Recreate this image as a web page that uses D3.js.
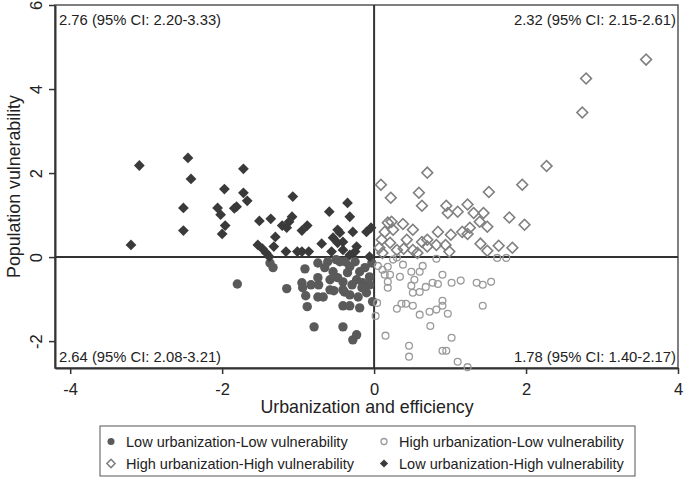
<!DOCTYPE html>
<html>
<head>
<meta charset="utf-8">
<script src="https://cdn.jsdelivr.net/npm/d3@7"></script>
<style>
  body { margin: 0; background: #fff; }
  svg { font-family: Arial, "Liberation Sans", sans-serif; display: block; }
</style>
</head>
<body>
<div id="chart"></div>
<script>
// series values, [x, y] = [urbanization & efficiency, population vulnerability]
var lowLow = [
  [-1.80,-0.64],[-1.37,-0.14],[-1.33,-0.25],[-0.74,-0.14],[-0.91,-0.28],[-0.54,-0.35],
  [-0.74,-0.49],[-0.73,-0.66],[-0.95,-0.61],[-0.94,-0.73],[-0.83,-0.66],[-1.15,-0.75],
  [-0.90,-0.92],[-0.74,-0.95],[-0.58,-0.78],[-0.53,-0.80],[-0.41,-0.78],[-0.88,-1.18],
  [-0.41,-1.16],[-0.32,-1.16],[-0.19,-1.21],[-0.79,-1.66],[-0.41,-1.66],[-0.28,-1.97],
  [-0.23,-1.85],[-0.45,-0.11],[-0.48,-0.49],[-0.41,-0.59],[-0.32,-0.23],[-0.19,-0.35],
  [-0.15,-0.61],[-0.23,-0.54],[-0.10,-0.85],[-0.32,-0.90],[-0.21,-0.95],[-0.06,-0.47],
  [-0.03,-0.14],[-0.39,-0.83],[-0.02,-1.06],[-0.61,-0.11],[-0.50,-0.06],[-0.67,-0.95],
  [-0.35,-0.37],[-0.12,-0.25],[-0.25,-0.11],[-0.38,-0.11],[-0.58,-0.54],[-0.65,-0.25],
  [-0.16,-0.73],[-0.06,-0.66],[-0.29,-0.66]
];
var highLow = [
  [1.62,-0.02],[1.74,-0.02],[0.05,-0.21],[0.11,-0.30],[0.18,-0.23],[0.14,-0.42],
  [0.21,-0.42],[0.18,-0.59],[0.18,-0.73],[0.25,-0.06],[0.30,-0.01],[0.38,-0.18],
  [0.34,-0.47],[0.49,-0.35],[0.60,-0.35],[0.64,-0.21],[0.53,-0.54],[0.49,-0.68],
  [0.51,-0.85],[0.60,-0.83],[0.68,-0.71],[0.77,-0.61],[0.84,-0.64],[0.90,-0.42],
  [1.02,-0.61],[1.14,-0.56],[1.35,-0.61],[1.43,-0.66],[1.54,-0.59],[0.82,-0.04],
  [0.30,-1.23],[0.36,-1.11],[0.42,-1.11],[0.51,-1.16],[0.60,-1.37],[0.73,-1.30],
  [0.82,-1.25],[0.90,-1.04],[0.90,-1.16],[0.97,-1.35],[0.74,-1.64],[1.43,-1.16],
  [0.02,-1.40],[0.04,-1.09],[0.15,-1.87],[0.46,-2.11],[0.46,-2.37],[0.90,-2.23],
  [0.95,-2.23],[1.02,-1.92],[1.10,-2.49],[1.23,-2.62]
];
var highHigh = [
  [3.58,4.70],[2.79,4.25],[2.74,3.44],[2.27,2.17],[1.95,1.72],[1.51,1.55],[0.95,1.22],
  [0.97,1.05],[1.10,1.08],[1.23,1.25],[1.31,1.05],[1.44,1.05],[1.78,0.94],[1.39,0.84],
  [1.49,0.72],[1.98,0.77],[1.16,0.60],[1.26,0.70],[1.23,0.55],[1.01,0.53],[1.40,0.32],
  [1.49,0.15],[1.64,0.27],[1.82,0.22],[0.99,0.13],[0.94,0.29],[0.09,1.72],[0.22,1.41],
  [0.70,2.01],[0.59,1.53],[0.63,1.22],[0.84,0.60],[0.18,0.82],[0.23,0.84],[0.25,0.65],
  [0.14,0.60],[0.38,0.79],[0.51,0.65],[0.43,0.41],[0.30,0.17],[0.10,0.41],[0.07,0.22],
  [0.51,0.17],[0.63,0.36],[0.70,0.41],[0.82,0.29],[0.57,0.10],[0.70,0.25],[0.39,0.20],
  [0.21,0.34],[0.11,0.10]
];
var lowHigh = [
  [-3.09,2.18],[-2.45,2.36],[-2.41,1.86],[-2.51,1.17],[-2.51,0.63],[-3.20,0.29],
  [-1.97,1.62],[-2.06,1.17],[-2.02,1.01],[-1.96,0.75],[-2.00,0.55],[-1.84,1.16],
  [-1.81,1.20],[-1.72,2.10],[-1.72,1.53],[-1.67,1.34],[-1.07,1.44],[-1.51,0.86],
  [-1.36,0.91],[-1.08,0.96],[-1.12,0.84],[-1.21,0.75],[-1.15,0.70],[-1.30,0.48],
  [-1.32,0.25],[-1.16,0.13],[-1.53,0.29],[-1.47,0.20],[-1.42,0.10],[-1.38,0.01],
  [-1.01,0.13],[-0.95,0.63],[-0.88,0.75],[-0.95,0.13],[-0.86,0.13],[-0.69,0.32],
  [-0.59,1.08],[-0.35,1.29],[-0.32,0.96],[-0.48,0.65],[-0.45,0.58],[-0.54,0.46],
  [-0.48,0.34],[-0.41,0.36],[-0.56,0.13],[-0.41,0.17],[-0.28,0.60],[-0.23,0.25],
  [-0.25,0.13],[-0.10,0.60],[-0.04,0.70],[-0.06,0.01],[-0.32,0.05]
];

// tick labels
var xTicks = [-4, -2, 0, 2, 4];
var yTicks = [-2, 0, 2, 4, 6];

// quadrant notes
var notes = [
  {text: "2.76 (95% CI: 2.20-3.33)", corner: "tl"},
  {text: "2.32 (95% CI: 2.15-2.61)", corner: "tr"},
  {text: "2.64 (95% CI: 2.08-3.21)", corner: "bl"},
  {text: "1.78 (95% CI: 1.40-2.17)", corner: "br"}
];

var legendItems = [
  {label: "Low urbanization-Low vulnerability", kind: "lowLow"},
  {label: "High urbanization-Low vulnerability", kind: "highLow"},
  {label: "High urbanization-High vulnerability", kind: "highHigh"},
  {label: "Low urbanization-High vulnerability", kind: "lowHigh"}
];

var width = 685, height = 479;
var plotLeft = 55, plotRight = 678, plotTop = 5, plotBottom = 368;

var svg = d3.select("#chart").append("svg")
    .attr("width", width)
    .attr("height", height);

var x = d3.scaleLinear().domain([-4.2, 4]).range([plotLeft, plotRight]);
var y = d3.scaleLinear().domain([-2.64, 6]).range([plotBottom, plotTop]);

var diamond = d3.symbol().type(d3.symbolSquare).size(58);
var diamondSmall = d3.symbol().type(d3.symbolSquare).size(34);

// frame: top and right edges
svg.append("rect")
    .attr("x", plotLeft).attr("y", plotTop)
    .attr("width", plotRight - plotLeft).attr("height", plotBottom - plotTop)
    .attr("fill", "none")
    .attr("stroke", "#555")
    .attr("stroke-width", 1.5);

// zero lines
svg.append("line")
    .attr("x1", x(0)).attr("x2", x(0))
    .attr("y1", plotTop).attr("y2", plotBottom)
    .attr("stroke", "#333").attr("stroke-width", 2);
svg.append("line")
    .attr("x1", plotLeft).attr("x2", plotRight)
    .attr("y1", y(0)).attr("y2", y(0))
    .attr("stroke", "#333").attr("stroke-width", 2);

// axes
var xAxis = svg.append("g")
    .attr("transform", "translate(0," + plotBottom + ")")
    .call(d3.axisBottom(x).tickValues(xTicks).tickSize(6).tickSizeOuter(0).tickFormat(String));
var yAxis = svg.append("g")
    .attr("transform", "translate(" + plotLeft + ",0)")
    .call(d3.axisLeft(y).tickValues(yTicks).tickSize(6).tickSizeOuter(0).tickFormat(String));

[xAxis, yAxis].forEach(function(g) {
  g.select(".domain").attr("stroke", "#333").attr("stroke-width", 2);
  g.selectAll(".tick line").attr("stroke", "#333").attr("stroke-width", 1.5);
  g.selectAll(".tick text")
      .attr("fill", "#222")
      .style("font-size", "16.5px")
      .style("font-family", "Arial, 'Liberation Sans', sans-serif");
});
xAxis.selectAll(".tick text").attr("dy", null).attr("y", 27);
yAxis.selectAll(".tick text")
    .attr("x", null).attr("dy", null)
    .attr("text-anchor", "middle")
    .attr("transform", "translate(-13,0) rotate(-90)");

// axis titles
svg.append("text")
    .attr("x", 367).attr("y", 413)
    .attr("text-anchor", "middle")
    .attr("fill", "#222")
    .style("font-size", "17.8px")
    .text("Urbanization and efficiency");
svg.append("text")
    .attr("transform", "translate(20," + ((plotTop + plotBottom) / 2) + ") rotate(-90)")
    .attr("text-anchor", "middle")
    .attr("fill", "#222")
    .style("font-size", "17.8px")
    .text("Population vulnerability");

// points
var pts = svg.append("g");

pts.selectAll(".ll").data(lowLow).enter().append("circle")
    .attr("class", "ll")
    .attr("cx", function(d) { return x(d[0]); })
    .attr("cy", function(d) { return y(d[1]); })
    .attr("r", 4.7)
    .attr("fill", "#5a5a5a");

pts.selectAll(".hl").data(highLow).enter().append("circle")
    .attr("class", "hl")
    .attr("cx", function(d) { return x(d[0]); })
    .attr("cy", function(d) { return y(d[1]); })
    .attr("r", 3.4)
    .attr("fill", "none")
    .attr("stroke", "#9a9a9a")
    .attr("stroke-width", 1.3);

pts.selectAll(".hh").data(highHigh).enter().append("path")
    .attr("class", "hh")
    .attr("d", diamond)
    .attr("transform", function(d) { return "translate(" + x(d[0]) + "," + y(d[1]) + ") rotate(45)"; })
    .attr("fill", "none")
    .attr("stroke", "#808080")
    .attr("stroke-width", 1.6);

pts.selectAll(".lh").data(lowHigh).enter().append("path")
    .attr("class", "lh")
    .attr("d", diamond)
    .attr("transform", function(d) { return "translate(" + x(d[0]) + "," + y(d[1]) + ") rotate(45)"; })
    .attr("fill", "#3a3a3a");

// quadrant notes
svg.selectAll(".note").data(notes).enter().append("text")
    .attr("class", "note")
    .attr("x", function(d) { return d.corner[1] === "l" ? plotLeft + 4 : plotRight - 2; })
    .attr("y", function(d) { return d.corner[0] === "t" ? 25 : 362; })
    .attr("text-anchor", function(d) { return d.corner[1] === "l" ? "start" : "end"; })
    .attr("fill", "#222")
    .style("font-size", "14.8px")
    .text(function(d) { return d.text; });

// legend
var legend = svg.append("g");
legend.append("rect")
    .attr("x", 100).attr("y", 426)
    .attr("width", 535).attr("height", 50)
    .attr("fill", "#fff")
    .attr("stroke", "#555")
    .attr("stroke-width", 1);

var item = legend.selectAll(".item").data(legendItems).enter().append("g")
    .attr("class", "item")
    .attr("transform", function(d, i) {
      return "translate(" + (i % 2 === 0 ? 111 : 384) + "," + (i < 2 ? 441.5 : 463.5) + ")";
    });

item.each(function(d) {
  var g = d3.select(this);
  if (d.kind === "lowLow") {
    g.append("circle").attr("r", 3.5).attr("fill", "#5a5a5a");
  } else if (d.kind === "highLow") {
    g.append("circle").attr("r", 3).attr("fill", "none")
        .attr("stroke", "#9a9a9a").attr("stroke-width", 1.3);
  } else if (d.kind === "highHigh") {
    g.append("path").attr("d", diamondSmall).attr("transform", "rotate(45)")
        .attr("fill", "none").attr("stroke", "#808080").attr("stroke-width", 1.5);
  } else {
    g.append("path").attr("d", diamondSmall).attr("transform", "rotate(45)")
        .attr("fill", "#3a3a3a");
  }
  g.append("text")
      .attr("x", 15).attr("y", 5)
      .attr("fill", "#222")
      .style("font-size", "14.5px")
      .text(d.label);
});
</script>
</body>
</html>
